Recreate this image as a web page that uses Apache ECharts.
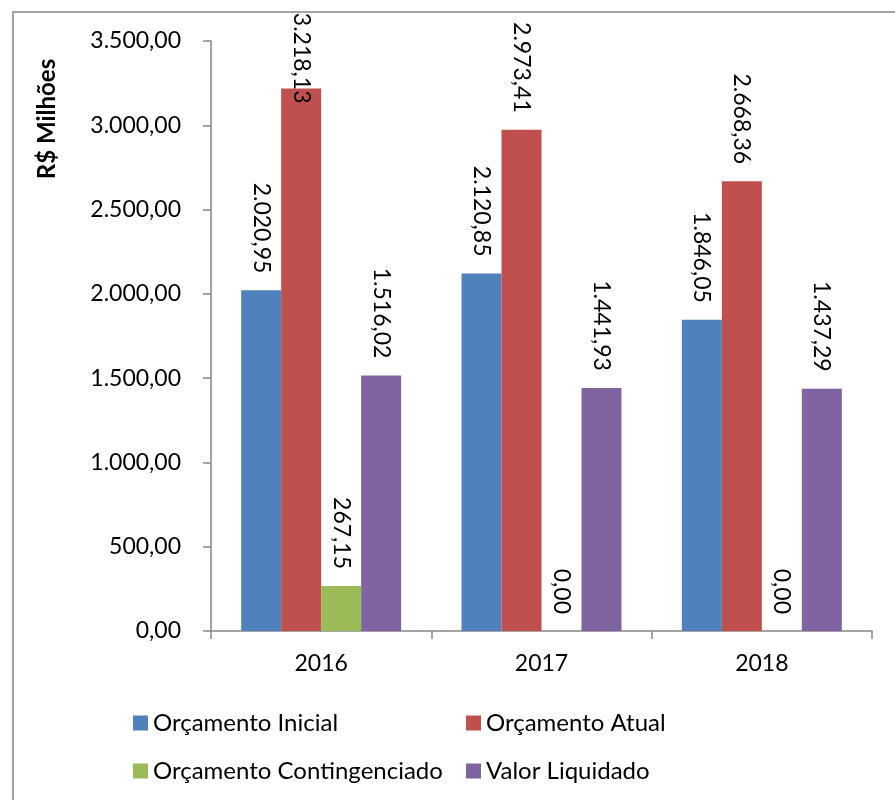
<!DOCTYPE html>
<html>
<head>
<meta charset="utf-8">
<script src="https://cdn.jsdelivr.net/npm/echarts@6/dist/echarts.min.js"></script>
<style>html,body{margin:0;padding:0;background:#fff;}#c{width:895px;height:800px;}</style>
</head>
<body>
<div id="c"></div>
<script>
const categories = ['2016', '2017', '2018'];
const seriesNames = ['Orçamento Inicial', 'Orçamento Atual', 'Orçamento Contingenciado', 'Valor Liquidado'];
const orcamentoInicial = [2020.95, 2120.85, 1846.05];
const orcamentoAtual = [3218.13, 2973.41, 2668.36];
const orcamentoContingenciado = [267.15, 0, 0];
const valorLiquidado = [1516.02, 1441.93, 1437.29];
const yTicks = { min: 0, max: 3500, interval: 500 };
const colors = ['#4F81BD', '#C0504D', '#9BBB59', '#8064A2'];
const FONT = 'Lato';

function fmtBR(v) {
  const s = Number(v).toFixed(2);
  let [i, d] = s.split('.');
  i = i.replace(/\B(?=(\d{3})+(?!\d))/g, '.');
  return i + ',' + d;
}

const allValues = [orcamentoInicial, orcamentoAtual, orcamentoContingenciado, valorLiquidado];

function buildData(arr) {
  return arr.map(v => {
    const item = { value: v };
    if (v > 3100) {
      // Excel pushes this label down so it stays inside the chart area
      item.label = { distance: -15 };
    }
    return item;
  });
}

const series = allValues.map((arr, idx) => ({
  name: seriesNames[idx],
  type: 'bar',
  data: buildData(arr),
  barGap: '0%',
  barCategoryGap: '27.4%',
  itemStyle: { color: colors[idx] },
  label: {
    show: true,
    position: 'top',
    rotate: -90,
    align: 'right',
    verticalAlign: 'middle',
    distance: 17,
    fontFamily: FONT,
    fontSize: 23,
    color: '#000',
    formatter: p => fmtBR(p.value)
  }
}));

const legendCommon = {
  orient: 'vertical',
  top: 710,
  padding: 0,
  icon: 'rect',
  itemWidth: 15,
  itemHeight: 15,
  itemGap: 22,
  textStyle: { fontFamily: FONT, fontSize: 24, color: '#000', lineHeight: 26 }
};

const chart = echarts.init(document.getElementById('c'), null, { renderer: 'canvas' });
chart.setOption({
  animation: false,
  color: colors,
  textStyle: { fontFamily: FONT },
  grid: { left: 211, right: 23, top: 41, bottom: 169, containLabel: false },
  graphic: [
    {
      type: 'rect',
      shape: { x: 13, y: 12, width: 920, height: 820 },
      style: { fill: 'none', stroke: '#868686', lineWidth: 1.5 },
      silent: true
    },
    {
      type: 'text',
      x: 47,
      y: 119,
      rotation: Math.PI / 2,
      style: {
        text: 'R$ Milhões',
        font: 'bold 24px ' + FONT,
        fill: '#000',
        textAlign: 'center',
        textVerticalAlign: 'middle'
      }
    }
  ],
  legend: [
    Object.assign({ data: [seriesNames[0], seriesNames[2]], left: 133 }, legendCommon),
    Object.assign({ data: [seriesNames[1], seriesNames[3]], left: 466 }, legendCommon)
  ],
  xAxis: {
    type: 'category',
    data: categories,
    boundaryGap: true,
    axisLine: { lineStyle: { color: '#868686', width: 1.5 } },
    axisTick: { show: true, length: 8, alignWithLabel: false, lineStyle: { color: '#868686', width: 1.5 } },
    axisLabel: { fontFamily: FONT, fontSize: 23, color: '#000', margin: 21 }
  },
  yAxis: {
    type: 'value',
    min: yTicks.min,
    max: yTicks.max,
    interval: yTicks.interval,
    splitLine: { show: false },
    axisLine: { show: true, lineStyle: { color: '#868686', width: 1.5 } },
    axisTick: { show: true, length: 8, lineStyle: { color: '#868686', width: 1.5 } },
    axisLabel: { fontFamily: FONT, fontSize: 23, color: '#000', margin: 30, formatter: v => fmtBR(v) }
  },
  series: series
});
</script>
</body>
</html>
